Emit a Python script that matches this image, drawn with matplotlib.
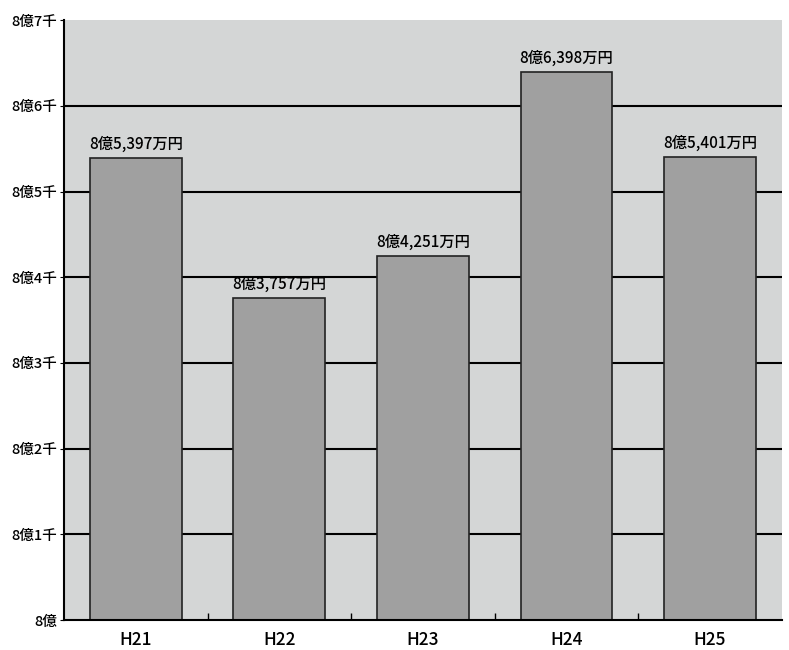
import matplotlib.pyplot as plt
import numpy as np

plt.rcParams['font.family'] = ['Noto Sans CJK JP', 'DejaVu Sans']
plt.rcParams['font.weight'] = 'medium'

# values in 万円
years = ['H21', 'H22', 'H23', 'H24', 'H25']
values = [85397, 83757, 84251, 86398, 85401]
value_labels = ['8億5,397万円', '8億3,757万円', '8億4,251万円', '8億6,398万円', '8億5,401万円']
y_ticks = [80000, 81000, 82000, 83000, 84000, 85000, 86000, 87000]
y_tick_labels = ['8億', '8億1千', '8億2千', '8億3千', '8億4千', '8億5千', '8億6千', '8億7千']

fig = plt.figure(figsize=(7.89, 6.5), dpi=100)
ax = fig.add_axes([0.081, 0.046, 0.91, 0.923])
ax.set_facecolor('#d4d6d6')

x = np.arange(len(years))
ax.set_xlim(-0.5, len(years) - 0.5)
ax.set_ylim(80000, 87000)

for y in y_ticks[1:-1]:
    ax.axhline(y, color='black', lw=1.5, zorder=1)

ax.bar(x, np.array(values) - 80000, bottom=80000, width=0.64,
       color='#a0a0a0', edgecolor='#222222', lw=1.2, zorder=2)

for xi, v, lab in zip(x, values, value_labels):
    ax.text(xi, v + 60, lab, ha='center', va='bottom', fontsize=11, zorder=3)

ax.set_yticks(y_ticks)
ax.set_yticklabels(y_tick_labels, fontsize=10.5)
ax.set_xticks(x)
ax.set_xticklabels(years, fontsize=12.5)
ax.tick_params(axis='x', which='major', length=0, pad=8)
ax.tick_params(axis='y', which='major', length=3, pad=2)
ax.set_xticks(np.arange(0.5, len(years) - 0.5), minor=True)
ax.tick_params(axis='x', which='minor', direction='in', length=5, width=1)

ax.spines['top'].set_visible(False)
ax.spines['right'].set_visible(False)
ax.spines['left'].set_linewidth(1.5)
ax.spines['bottom'].set_linewidth(1.5)

fig.savefig('out.png', dpi=100)
